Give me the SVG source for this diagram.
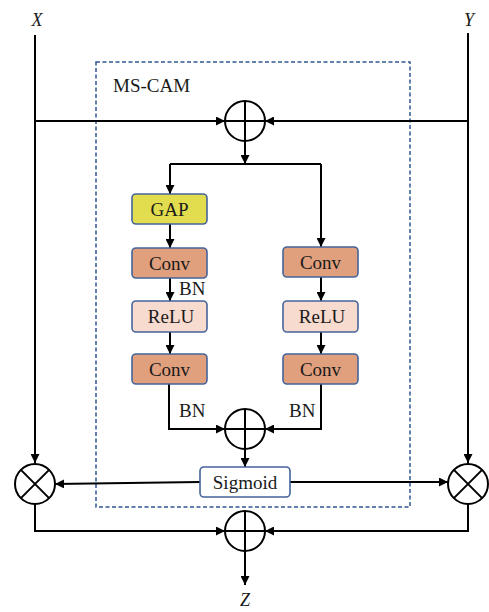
<svg xmlns="http://www.w3.org/2000/svg" width="489" height="612" viewBox="0 0 489 612">
<style>
.ln{fill:none;stroke:#000;stroke-width:2}
.op{fill:#fff;stroke:#000;stroke-width:2}
.bx{stroke:#44649a;stroke-width:1.6}
.gap{fill:#e2dd4e}
.conv{fill:#e09f7d}
.relu{fill:#f8dbcf}
.sig{fill:#fff}
.t{font-family:"Liberation Serif","Times New Roman",serif;font-size:19px;fill:#1a1a1a;text-anchor:middle}
.lbl{font-family:"Liberation Serif","Times New Roman",serif;font-size:19px;fill:#1a1a1a}
.it{font-family:"Liberation Serif","Times New Roman",serif;font-size:18px;font-style:italic;fill:#1a1a1a;text-anchor:middle}
</style>
<defs>
<marker id="ah" viewBox="0 0 10 10" refX="10" refY="5" markerUnits="userSpaceOnUse" markerWidth="9" markerHeight="9" orient="auto">
<path d="M0,0 L10,5 L0,10 z" fill="#000"/>
</marker>
</defs>
<rect id="mscam-frame" x="96" y="62" width="314" height="445" fill="none" stroke="#2f5597" stroke-width="1.5" stroke-dasharray="4,2.5"/>
<text class="lbl" x="113" y="92">MS-CAM</text>
<text class="it" x="37" y="26">X</text>
<text class="it" x="469" y="26">Y</text>
<text class="it" x="245" y="606">Z</text>
<g id="connectors">
<path class="ln" d="M35,35 V463" marker-end="url(#ah)"/>
<path class="ln" d="M468,33 V463" marker-end="url(#ah)"/>
<path class="ln" d="M35,121 H225" marker-end="url(#ah)"/>
<path class="ln" d="M468,121 H265" marker-end="url(#ah)"/>
<path class="ln" d="M245,141 V164" marker-end="url(#ah)"/>
<path class="ln" d="M170,164 H321"/>
<path class="ln" d="M170,164 V194" marker-end="url(#ah)"/>
<path class="ln" d="M321,164 V247" marker-end="url(#ah)"/>
<path class="ln" d="M170,224 V248" marker-end="url(#ah)"/>
<path class="ln" d="M170,278 V301" marker-end="url(#ah)"/>
<path class="ln" d="M170,332 V354" marker-end="url(#ah)"/>
<path class="ln" d="M321,277 V301" marker-end="url(#ah)"/>
<path class="ln" d="M321,332 V354" marker-end="url(#ah)"/>
<path class="ln" d="M169,384 V429 H225" marker-end="url(#ah)"/>
<path class="ln" d="M321,384 V429 H265" marker-end="url(#ah)"/>
<path class="ln" d="M245,449 V467" marker-end="url(#ah)"/>
<path class="ln" d="M200,482 L55,484" marker-end="url(#ah)"/>
<path class="ln" d="M290,482 H448" marker-end="url(#ah)"/>
<path class="ln" d="M35,504 V531 H225" marker-end="url(#ah)"/>
<path class="ln" d="M468,504 V531 H265" marker-end="url(#ah)"/>
<path class="ln" d="M245,551 V585" marker-end="url(#ah)"/>
<text class="lbl" x="179" y="295">BN</text>
<text class="lbl" x="179" y="417">BN</text>
<text class="lbl" x="289" y="417">BN</text>
</g>
<g id="add-top"><circle class="op" cx="245" cy="121" r="20"/><path class="ln" d="M225,121 H265 M245,101 V141"/></g>
<g id="add-mid"><circle class="op" cx="245" cy="429" r="20"/><path class="ln" d="M225,429 H265 M245,409 V449"/></g>
<g id="add-bot"><circle class="op" cx="245" cy="531" r="20"/><path class="ln" d="M225,531 H265 M245,511 V551"/></g>
<g id="mul-left"><circle class="op" cx="35" cy="484" r="20"/><path class="ln" d="M20.9,469.9 L49.1,498.1 M49.1,469.9 L20.9,498.1"/></g>
<g id="mul-right"><circle class="op" cx="468" cy="484" r="20"/><path class="ln" d="M453.9,469.9 L482.1,498.1 M482.1,469.9 L453.9,498.1"/></g>
<g id="gap"><rect class="bx gap" x="132" y="194" width="75" height="30" rx="4"/><text class="t" x="169.5" y="216">GAP</text></g>
<g id="conv-l1"><rect class="bx conv" x="132" y="248" width="75" height="30" rx="4"/><text class="t" x="169.5" y="270">Conv</text></g>
<g id="relu-l"><rect class="bx relu" x="132" y="301" width="75" height="31" rx="4"/><text class="t" x="171" y="323">ReLU</text></g>
<g id="conv-l2"><rect class="bx conv" x="132" y="354" width="75" height="30" rx="4"/><text class="t" x="169.5" y="376">Conv</text></g>
<g id="conv-r1"><rect class="bx conv" x="283" y="247" width="75" height="30" rx="4"/><text class="t" x="320.5" y="269">Conv</text></g>
<g id="relu-r"><rect class="bx relu" x="283" y="301" width="75" height="31" rx="4"/><text class="t" x="322" y="323">ReLU</text></g>
<g id="conv-r2"><rect class="bx conv" x="283" y="354" width="75" height="30" rx="4"/><text class="t" x="320.5" y="376">Conv</text></g>
<g id="sigmoid"><rect class="bx sig" x="200" y="467" width="90" height="30" rx="4"/><text class="t" x="245" y="489">Sigmoid</text></g>
</svg>
